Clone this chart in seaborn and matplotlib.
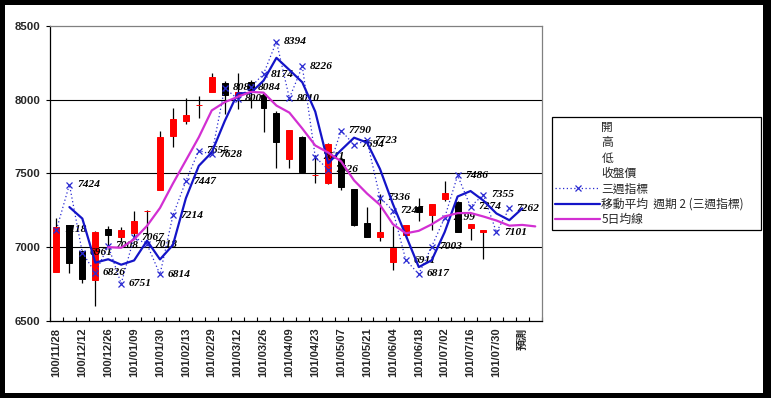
import numpy as np
import pandas as pd
import matplotlib
matplotlib.use("Agg")
import matplotlib.pyplot as plt
from matplotlib.lines import Line2D
from matplotlib.patches import Rectangle
import seaborn as sns

# ---------------- data ----------------
week_labels = ["100/11/28", "100/12/05", "100/12/12", "100/12/19", "100/12/26",
               "101/01/02", "101/01/09", "101/01/16", "101/01/30", "101/02/06",
               "101/02/13", "101/02/20", "101/02/29", "101/03/05", "101/03/12",
               "101/03/19", "101/03/26", "101/04/02", "101/04/09", "101/04/16",
               "101/04/23", "101/04/30", "101/05/07", "101/05/14", "101/05/21",
               "101/05/28", "101/06/04", "101/06/11", "101/06/18", "101/06/25",
               "101/07/02", "101/07/09", "101/07/16", "101/07/23", "101/07/30",
               "101/08/06", "預測", ""]

open_price = [6832, 7149, 6975, 6776, 7124, 7066, 7097, 7244, 7385, 7756, 7857, 7965,
              8054, 8111, 8030, 8120, 8032, 7910, 7595, 7749, 7489, 7435, 7600, 7392,
              7161, 7066, 6900, 7081, 7270, 7220, 7325, 7308, 7130, 7100]
high_price = [7195, 7149, 6980, 7110, 7143, 7134, 7244, 7252, 7787, 7941, 8012, 8025,
              8183, 8125, 8180, 8133, 8043, 7920, 7794, 7755, 7625, 7705, 7613, 7395,
              7274, 7360, 7145, 7150, 7330, 7295, 7445, 7310, 7155, 7115]
low_price = [6832, 6826, 6753, 6600, 7010, 7036, 7065, 7080, 7385, 7678, 7834, 7874,
             8054, 7900, 7935, 7941, 7783, 7534, 7534, 7505, 7432, 7430, 7385, 7145,
             7065, 7041, 6846, 7060, 7175, 7115, 7315, 7100, 7045, 6917]
close_price = [7134, 6893, 6785, 7104, 7079, 7115, 7177, 7245, 7749, 7869, 7898, 7965,
               8152, 8031, 8050, 8066, 7941, 7710, 7794, 7511, 7489, 7700, 7409, 7149,
               7070, 7100, 6995, 7149, 7235, 7293, 7368, 7104, 7155, 7115]

three_week = [7118, 7424, 6961, 6826, 7008, 6751, 7067, 7018, 6814, 7214, 7447, 7655,
              7628, 8080, 8005, 8084, 8174, 8394, 8010, 8226, 7611, 7526, 7790, 7694,
              7723, 7336, 7247, 6911, 6817, 7003, 7199, 7486, 7274, 7355, 7101, 7262]

# moving average (period 2) of the three-week indicator, starts at week index 1
ma2_start = 1
ma2_values = [7271, 7193, 6894, 6917, 6880, 6909, 7043, 6916, 7014, 7331, 7551, 7642,
              7854, 8043, 8045, 8129, 8284, 8202, 8118, 7919, 7569, 7658, 7742, 7709,
              7530, 7292, 7079, 6864, 6910, 7101, 7343, 7380, 7315, 7228, 7182, 7262]

# 5-day average line, starts at week index 4
ma5_start = 4
ma5_values = [6999, 6995, 7052, 7144, 7265, 7431, 7588, 7745, 7927, 7983, 8019, 8053,
              8048, 7960, 7912, 7804, 7689, 7641, 7581, 7452, 7363, 7286, 7155, 7093,
              7110, 7154, 7208, 7230, 7231, 7207, 7180, 7145, 7150, 7140]

y_ticks = [6500, 7000, 7500, 8000, 8500]

legend_labels = ["開", "高", "低", "收盤價", "三週指標", "移動平均  週期 2 (三週指標)", "5日均線"]

# ---------------- style ----------------
sns.set_theme(style="white")
plt.rcParams['font.family'] = ['Liberation Sans', 'Noto Sans CJK TC', 'DejaVu Sans']

BLUE = "#1414c8"
DOT_BLUE = "#2a2ad2"
MAGENTA = "#d22fd2"

W, H = 771, 398
fig = plt.figure(figsize=(W / 100, H / 100), dpi=100, facecolor="black")
fig.patches.append(Rectangle((5 / W, 1 - 393 / H), (763 - 5) / W, (393 - 5) / H,
                             transform=fig.transFigure, facecolor="white",
                             edgecolor="none", zorder=-10))

ax_left, ax_right, ax_top, ax_bottom = 50, 541.7, 26, 320.7
ax = fig.add_axes([ax_left / W, 1 - ax_bottom / H, (ax_right - ax_left) / W,
                   (ax_bottom - ax_top) / H])
ax.set_zorder(2)
ax.set_facecolor("white")

n_cat = len(week_labels)

# ---------------- candles ----------------
df_c = pd.DataFrame({"x": np.arange(len(open_price)), "open": open_price,
                     "high": high_price, "low": low_price, "close": close_price})
df_c["up"] = df_c["close"] >= df_c["open"]
ax.vlines(df_c["x"], df_c["low"], df_c["high"], color="black", lw=0.9, zorder=2)
up = df_c[df_c["up"]]
dn = df_c[~df_c["up"]]
ax.bar(up["x"], up["close"] - up["open"], bottom=up["open"], width=0.46,
       color="#ff0000", edgecolor="#ff0000", linewidth=0.7, zorder=3)
ax.bar(dn["x"], dn["close"] - dn["open"], bottom=dn["open"], width=0.46,
       color="black", edgecolor="black", linewidth=0.7, zorder=4)

# ---------------- lines ----------------
df_s = pd.DataFrame({"x": np.arange(len(three_week)), "y": three_week})
sns.lineplot(data=df_s, x="x", y="y", ax=ax, color=DOT_BLUE, lw=0.9,
             linestyle=(0, (1, 2)), marker="x", markersize=4.5,
             markeredgewidth=0.9, markeredgecolor=DOT_BLUE, zorder=5)

df_ma2 = pd.DataFrame({"x": np.arange(ma2_start, ma2_start + len(ma2_values)),
                       "y": ma2_values})
sns.lineplot(data=df_ma2, x="x", y="y", ax=ax, color=BLUE, lw=1.6, zorder=6)

df_ma5 = pd.DataFrame({"x": np.arange(ma5_start, ma5_start + len(ma5_values)),
                       "y": ma5_values})
sns.lineplot(data=df_ma5, x="x", y="y", ax=ax, color=MAGENTA, lw=1.6, zorder=6)

for xi, yi in zip(df_s["x"], df_s["y"]):
    ax.annotate(f"{yi}", (xi, yi), xytext=(5.5, 0), textcoords="offset points",
                ha="left", va="center", fontsize=8.2, fontstyle="italic",
                fontweight="bold", family=["Liberation Serif", "DejaVu Serif"],
                color="black", zorder=3.5)

# ---------------- axes ----------------
ax.set_xlim(-0.5, n_cat - 0.5)
ax.set_ylim(y_ticks[0], y_ticks[-1])
ax.set_yticks(y_ticks)
ax.set_yticklabels([str(v) for v in y_ticks], fontsize=8.2, fontweight="bold")
ax.set_xticks(np.arange(0, n_cat, 2))
ax.set_xticklabels(week_labels[::2], rotation=90, fontsize=8, fontweight="bold",
                   va="top", ha="center")
ax.set_xticks(np.arange(-0.5, n_cat, 1), minor=True)
ax.tick_params(axis="x", which="major", length=0, pad=5)
ax.tick_params(axis="x", which="minor", length=3, direction="in", color="black",
               width=0.8, bottom=True)
ax.tick_params(axis="y", which="major", length=3, direction="out", color="black",
               width=0.8, pad=4, left=True)
ax.set_xlabel("")
ax.set_ylabel("")

for yv in y_ticks[1:-1]:
    ax.axhline(yv, color="black", lw=0.8, zorder=1)

ax.spines["left"].set_color("black")
ax.spines["bottom"].set_color("black")
ax.spines["top"].set_color("#808080")
ax.spines["right"].set_color("#808080")
for s in ax.spines.values():
    s.set_linewidth(0.9)
    s.set_visible(True)

# ---------------- legend ----------------
handles = [Line2D([], [], color="none"), Line2D([], [], color="none"),
           Line2D([], [], color="none"), Line2D([], [], color="none"),
           Line2D([], [], color=DOT_BLUE, lw=0.9, linestyle=(0, (1, 2)), marker="x",
                  markersize=4.5, markeredgewidth=0.9),
           Line2D([], [], color=BLUE, lw=1.6),
           Line2D([], [], color=MAGENTA, lw=1.6)]
leg = fig.legend(handles, legend_labels, loc="upper left",
                 bbox_to_anchor=(551.7 / W, 1 - 228.3 / H, 209 / W, 111 / H),
                 mode="expand", borderaxespad=0, frameon=True, fancybox=False,
                 framealpha=1, edgecolor="black", facecolor="white",
                 handlelength=3.8, handletextpad=0.1, labelspacing=0.2,
                 borderpad=0.3, prop={"family": ["Noto Sans CJK TC", "DejaVu Sans"],
                                      "size": 8.5})
leg.get_frame().set_linewidth(0.9)

fig.savefig("out.png", dpi=100, facecolor="black")
